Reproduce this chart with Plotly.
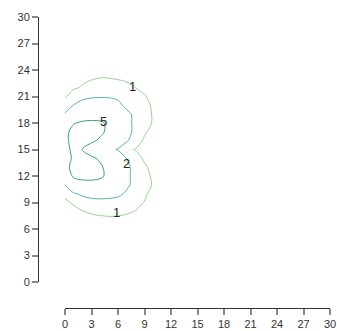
import plotly.graph_objects as go

# grid coordinates
x_vals = [0, 1, 2, 3, 4, 5, 6, 7, 8, 9, 10, 11, 12]
y_vals = [6, 7, 8, 9, 10, 11, 12, 13, 14, 15, 16, 17, 18, 19, 20, 21, 22, 23, 24, 25]

# z values, one row per y value (bottom to top)
z_y6 = [0.15, 0.25, 0.35, 0.4, 0.45, 0.45, 0.45, 0.4, 0.35, 0.25, 0.2, 0.1, 0.05]
z_y7 = [0.3, 0.45, 0.6, 0.72, 0.8, 0.85, 0.83, 0.75, 0.6, 0.45, 0.3, 0.2, 0.1]
z_y8 = [0.5, 0.8, 0.98, 1.12, 1.18, 1.2, 1.18, 1.12, 0.97, 0.7, 0.45, 0.25, 0.15]
z_y9 = [0.85, 1.1, 1.4, 1.6, 1.65, 1.6, 1.5, 1.35, 1.2, 0.97, 0.6, 0.35, 0.2]
z_y10 = [1.2, 1.85, 2.25, 2.45, 2.5, 2.45, 2.3, 1.8, 1.5, 1.15, 0.7, 0.4, 0.25]
z_y11 = [2.02, 3.6, 4.0, 4.1, 4.0, 3.6, 3.0, 2.2, 1.65, 1.4, 0.9, 0.5, 0.3]
z_y12 = [3.4, 5.4, 5.8, 5.8, 5.4, 4.4, 3.2, 2.25, 1.6, 1.35, 0.8, 0.45, 0.25]
z_y13 = [4.3, 5.7, 6.0, 5.9, 5.4, 4.0, 3.0, 2.25, 1.6, 1.15, 0.7, 0.4, 0.25]
z_y14 = [4.5, 5.2, 5.5, 5.4, 4.6, 3.6, 2.8, 1.95, 1.4, 0.85, 0.5, 0.3, 0.2]
z_y15 = [4.6, 5.3, 4.98, 3.8, 3.0, 2.3, 1.9, 1.2, 0.93, 0.6, 0.4, 0.25, 0.15]
z_y16 = [4.6, 5.6, 5.9, 5.4, 4.6, 3.8, 2.9, 2.1, 1.5, 0.85, 0.5, 0.3, 0.2]
z_y17 = [4.2, 6.0, 6.3, 6.2, 5.5, 4.4, 3.3, 2.3, 1.75, 1.12, 0.7, 0.4, 0.25]
z_y18 = [3.2, 4.85, 5.35, 5.45, 5.3, 4.6, 3.3, 2.3, 1.75, 1.4, 0.9, 0.5, 0.3]
z_y19 = [2.1, 3.0, 3.6, 3.9, 3.9, 3.6, 3.0, 2.2, 1.8, 1.4, 0.9, 0.5, 0.3]
z_y20 = [1.4, 2.05, 2.5, 2.7, 2.75, 2.6, 2.2, 1.8, 1.55, 1.3, 0.85, 0.5, 0.3]
z_y21 = [0.9, 1.4, 1.7, 1.85, 1.9, 1.9, 1.85, 1.7, 1.4, 1.05, 0.8, 0.45, 0.25]
z_y22 = [0.8, 0.9, 1.07, 1.2, 1.3, 1.35, 1.3, 1.17, 0.99, 0.85, 0.6, 0.35, 0.2]
z_y23 = [0.6, 0.75, 0.88, 0.97, 1.03, 1.02, 0.97, 0.9, 0.75, 0.55, 0.35, 0.2, 0.1]
z_y24 = [0.4, 0.5, 0.6, 0.7, 0.75, 0.75, 0.7, 0.65, 0.55, 0.45, 0.3, 0.2, 0.1]
z_y25 = [0.2, 0.25, 0.3, 0.35, 0.35, 0.35, 0.3, 0.3, 0.25, 0.2, 0.15, 0.1, 0.1]

contour_levels = [1, 2, 5]
level_colors = ["#93d58a", "#55b4ad", "#33a283"]

# contour value labels as drawn in the chart
label_texts = ["1", "1", "2", "5"]
label_x = [7.66, 5.85, 6.98, 4.34]
label_y = [22.1, 7.9, 13.4, 18.15]

axis_ticks = [0, 3, 6, 9, 12, 15, 18, 21, 24, 27, 30]

z = [z_y6, z_y7, z_y8, z_y9, z_y10, z_y11, z_y12, z_y13, z_y14, z_y15,
     z_y16, z_y17, z_y18, z_y19, z_y20, z_y21, z_y22, z_y23, z_y24, z_y25]

fig = go.Figure()
for lvl, col in zip(contour_levels, level_colors):
    fig.add_trace(go.Contour(
        x=x_vals, y=y_vals, z=z,
        contours=dict(start=lvl, end=lvl, size=1, coloring="lines", showlabels=False),
        colorscale=[[0, col], [1, col]],
        line=dict(width=1, smoothing=1.0),
        showscale=False,
        hoverinfo="skip",
    ))

for t, lx, ly in zip(label_texts, label_x, label_y):
    fig.add_annotation(x=lx, y=ly, text=t, showarrow=False,
                       font=dict(family="Liberation Sans", size=13, color="#222"))

W, H = 337, 331
ml, mr, mt, mb = 38, 7, 17, 23
pw = W - ml - mr
ph = H - mt - mb

axis_common = dict(
    range=[0, 30], tickvals=axis_ticks, ticks="outside", ticklen=6,
    tickcolor="#888", tickwidth=1.5, showline=True, linecolor="#333", linewidth=1,
    showgrid=False, zeroline=False, automargin=False, ticklabeloverflow="allow",
    tickfont=dict(family="Liberation Sans", size=11, color="#333"),
)

fig.update_layout(
    width=W, height=H,
    margin=dict(l=ml, r=mr, t=mt, b=mb),
    paper_bgcolor="white", plot_bgcolor="white",
    showlegend=False,
    hovermode=False,
    xaxis=dict(domain=[27 / pw, 1], anchor="free", position=0, **axis_common),
    yaxis=dict(domain=[26 / ph, 1], anchor="free", position=0, **axis_common),
)

# remove the default page margin so the figure fills the window
fig.write_html(
    "out.html",
    config={"displayModeBar": False},
    post_script="document.body.style.margin='0';document.body.style.overflow='hidden';",
)
